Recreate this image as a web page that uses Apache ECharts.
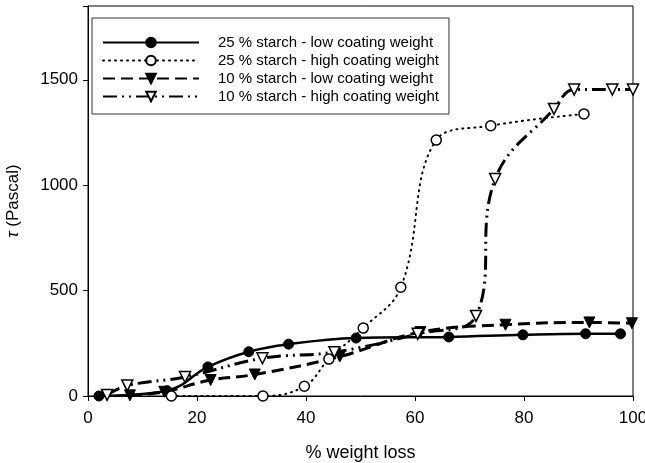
<!DOCTYPE html>
<html>
<head>
<meta charset="utf-8">
<script src="https://cdn.jsdelivr.net/npm/echarts@6/dist/echarts.min.js"></script>
<style>
  html, body { margin: 0; padding: 0; background: #fff; }
  #chart { width: 645px; height: 463px; }
</style>
</head>
<body>
<div id="chart"></div>
<script>
// values (% weight loss, tau in Pascal)
var names = [
  '25 % starch - low coating weight',
  '25 % starch - high coating weight',
  '10 % starch - low coating weight',
  '10 % starch - high coating weight'
]
var lowX25 = [2, 14.5, 22, 29.5, 36.8, 49.2, 66.2, 79.8, 91.3, 97.7]
var lowY25 = [0, 25, 138, 210, 246, 275, 280, 290, 295, 295]
var highX25 = [15.3, 32.1, 39.7, 44.2, 50.5, 57.4, 63.9, 73.9, 91]
var highY25 = [0, 0, 46, 175, 322, 516, 1214, 1282, 1338]
var lowX10 = [7.7, 14, 22.5, 30.6, 46.2, 61, 76.6, 92, 99.8]
var lowY10 = [3, 20, 76, 102, 187, 303, 338, 349, 345]
var highX10 = [3.5, 7.2, 17.8, 32, 45.2, 60.5, 71.2, 74.7, 85.5, 89.2, 96.2, 100]
var highY10 = [5, 50, 90, 179, 208, 295, 380, 1029, 1362, 1454, 1454, 1454]
var xTicks = [0, 20, 40, 60, 80, 100]
var yTicks = [0, 500, 1000, 1500]

function pairs (xs, ys) {
  return xs.map(function (x, i) { return [x, ys[i]] })
}

var font = 'Liberation Sans, Arial, sans-serif'

var chart = echarts.init(document.getElementById('chart'))
chart.setOption({
  animation: false,
  grid: {
    left: 88, right: 12, top: 6, bottom: 67,
    outerBoundsMode: 'none', containLabel: false,
    show: true, borderColor: '#000', borderWidth: 1
  },
  legend: {
    orient: 'vertical',
    left: 92, top: 18,
    padding: [17, 10, 10, 10],
    borderColor: '#333', borderWidth: 1,
    backgroundColor: '#fff',
    itemWidth: 96, itemHeight: 12, itemGap: 3,
    textStyle: { fontFamily: font, fontSize: 15, color: '#000', padding: [0, 0, 0, 14] },
    data: names
  },
  xAxis: {
    type: 'value', min: 0, max: 100, interval: 20,
    name: '% weight loss', nameLocation: 'middle', nameGap: 48,
    nameTextStyle: { fontFamily: font, fontSize: 18, color: '#000' },
    axisLine: { lineStyle: { color: '#000' } },
    axisTick: { inside: false, length: 5, lineStyle: { color: '#000' } },
    axisLabel: {
      fontFamily: font, fontSize: 17, color: '#000', margin: 14,
      formatter: function (v) { return xTicks.indexOf(v) >= 0 ? v : '' }
    },
    splitLine: { show: false }
  },
  yAxis: {
    type: 'value', min: 0, max: 1850, interval: 500,
    name: '{i|τ} (Pascal)', nameLocation: 'middle', nameGap: 66, nameRotate: 90,
    nameTextStyle: {
      fontFamily: font, fontSize: 17, color: '#000',
      rich: { i: { fontFamily: font, fontSize: 17, fontStyle: 'italic', color: '#000' } }
    },
    axisLine: { lineStyle: { color: '#000' } },
    axisTick: { inside: false, length: 5, lineStyle: { color: '#000' } },
    axisLabel: {
      fontFamily: font, fontSize: 17, color: '#000', margin: 10,
      formatter: function (v) { return yTicks.indexOf(v) >= 0 ? v : '' }
    },
    splitLine: { show: false }
  },
  series: [
    {
      name: names[0], type: 'line', smooth: 0.4,
      data: pairs(lowX25, lowY25),
      symbol: 'circle', symbolSize: 10,
      lineStyle: { color: '#000', width: 2.5, type: 'solid' },
      itemStyle: { color: '#000', borderColor: '#000', borderWidth: 1 }
    },
    {
      name: names[1], type: 'line', smooth: 0.4,
      data: pairs(highX25, highY25),
      symbol: 'circle', symbolSize: 10,
      lineStyle: { color: '#000', width: 2, type: [1, 5], cap: 'round' },
      itemStyle: { color: '#fff', borderColor: '#000', borderWidth: 1.5 }
    },
    {
      name: names[2], type: 'line', smooth: 0.4,
      data: pairs(lowX10, lowY10),
      symbol: 'triangle', symbolRotate: 180, symbolSize: 11,
      lineStyle: { color: '#000', width: 3, type: [12, 6] },
      itemStyle: { color: '#000', borderColor: '#000', borderWidth: 1 }
    },
    {
      name: names[3], type: 'line', smooth: 0.4,
      data: pairs(highX10, highY10),
      symbol: 'triangle', symbolRotate: 180, symbolSize: 11,
      lineStyle: { color: '#000', width: 3, type: [14, 5, 2, 5, 2, 5] },
      itemStyle: { color: '#fff', borderColor: '#000', borderWidth: 1.5 }
    }
  ]
})
</script>
</body>
</html>
